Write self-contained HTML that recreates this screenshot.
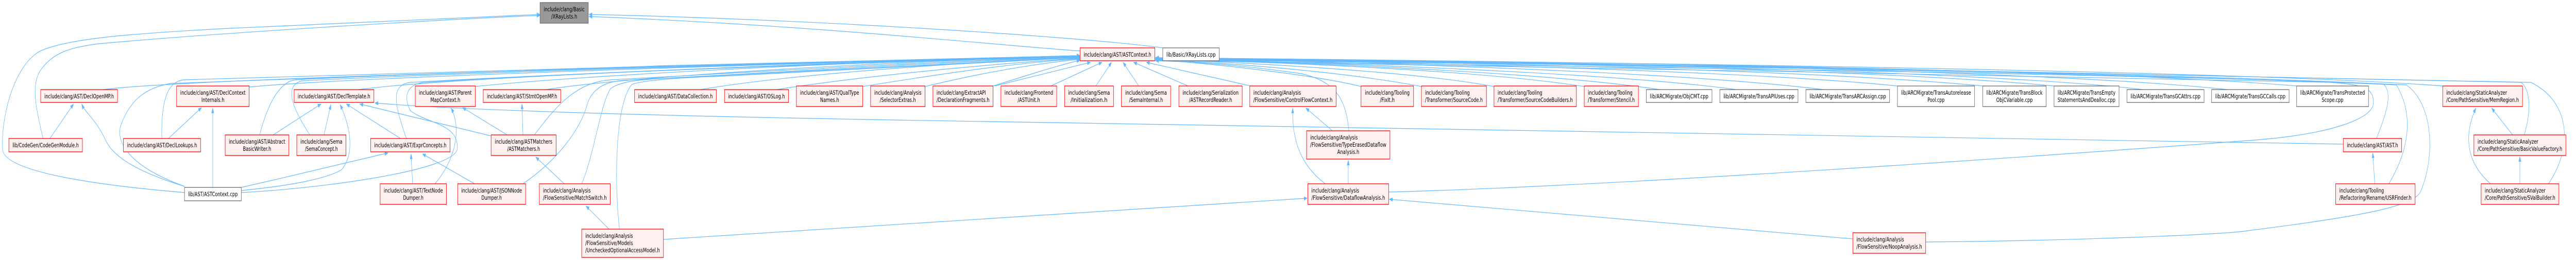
<!DOCTYPE html>
<html><head><meta charset="utf-8"><style>
html,body{margin:0;padding:0;background:#fff;width:100%;height:100%;overflow:hidden;}
svg{display:block;width:100vw;height:100vh;}
text{font-family:"DejaVu Sans","Liberation Sans",sans-serif;font-size:11.5px;fill:#000;}
.r{fill:#fff0f0;stroke:#ff0000;stroke-width:1.3;}
.g{fill:#fff;stroke:#666;stroke-width:1.3;}
.root{fill:#999;stroke:#666;stroke-width:1.3;}
.e{fill:none;stroke:#63b8ff;stroke-width:1.2;}
</style></head><body>
<svg viewBox="0 0 7847 505" preserveAspectRatio="none" xmlns="http://www.w3.org/2000/svg" overflow="hidden">
<defs><marker id="a" markerWidth="11" markerHeight="8" refX="10" refY="4" orient="auto" markerUnits="userSpaceOnUse"><path d="M0,0 L11,4 L0,8 z" fill="#63b8ff"/></marker></defs>
<g marker-end="url(#a)">
<path class="e" d="M562,374 C300,360 20,335 8,292 C2,230 40,130 120,100 C200,75 400,65 700,55 C1100,42 1450,32 1645,28"/>
<path class="e" d="M131,269 C110,210 95,170 120,140 C160,100 220,92 300,85 C700,62 1400,36 1645,30"/>
<path class="e" d="M3543,93 C3300,72 2500,38 1794,28"/>
<path class="e" d="M3290,99 C3000,86 2500,50 1794,32"/>
<path class="e" d="M152,269 L224,202"/>
<path class="e" d="M562,362 C400,330 340,300 320,270 C290,230 260,220 249,202"/>
<path class="e" d="M648,364 L648,210"/>
<path class="e" d="M513,269 L614,209"/>
<path class="e" d="M832,262 L978,202"/>
<path class="e" d="M987,262 L1008,203"/>
<path class="e" d="M1220,269 L1055,202"/>
<path class="e" d="M1496,264 L1096,202"/>
<path class="e" d="M735,370 C900,360 1000,345 1040,330 C1080,300 1070,250 1036,203"/>
<path class="e" d="M735,364 C900,340 1100,310 1182,297"/>
<path class="e" d="M1325,357 C1400,300 1400,240 1374,210"/>
<path class="e" d="M1545,262 L1409,209"/>
<path class="e" d="M1593,262 L1590,202"/>
<path class="e" d="M1257,357 L1252,299"/>
<path class="e" d="M1446,357 L1287,299"/>
<path class="e" d="M1719,357 L1632,305"/>
<path class="e" d="M1855,445 L1785,400"/>
<path class="e" d="M7138,280 C6000,275 4500,252 3000,236 C2000,226 1400,214 1142,200"/>
<path class="e" d="M314,174 C600,150 2500,122 3290,108"/>
<path class="e" d="M759,169 C1100,148 2500,122 3290,108"/>
<path class="e" d="M493,269 C490,180 520,158 560,155 C1200,140 2500,120 3290,109"/>
<path class="e" d="M791,262 C820,190 860,158 900,155 C1500,135 2600,120 3290,110"/>
<path class="e" d="M944,262 C880,200 870,165 920,157 C1500,138 2600,120 3290,110"/>
<path class="e" d="M562,362 C380,320 350,270 370,240 C400,190 450,170 520,162 C1200,140 2500,118 3290,108"/>
<path class="e" d="M735,374 C1000,365 1380,330 1393,290 C1400,240 1300,240 1250,215 C1230,190 1235,165 1290,160 C1800,140 2700,118 3290,108"/>
<path class="e" d="M1092,174 C1400,148 2500,124 3290,108"/>
<path class="e" d="M1448,168 C1800,145 2600,120 3290,108"/>
<path class="e" d="M1663,174 C1900,150 2600,122 3290,109"/>
<path class="e" d="M1238,269 C1200,200 1190,165 1250,160 C1800,140 2700,120 3290,110"/>
<path class="e" d="M1628,262 C1700,200 1760,160 1860,155 C2300,140 2800,120 3290,110"/>
<path class="e" d="M1593,357 C1700,310 1770,250 1790,200 C1810,165 1860,158 1900,156 C2400,140 2800,122 3290,111"/>
<path class="e" d="M1772,357 C1810,300 1830,200 1860,172 C1890,158 1950,155 2000,153 C2500,138 2900,120 3290,111"/>
<path class="e" d="M1887,445 C1870,350 1875,200 1925,164 C1960,155 2100,150 2200,148 C2700,134 3000,120 3290,112"/>
<path class="e" d="M2133,174 C2400,145 2900,122 3290,112"/>
<path class="e" d="M2366,174 C2600,150 3000,125 3290,113"/>
<path class="e" d="M2628,168 C2900,140 3100,122 3290,114"/>
<path class="e" d="M2818,168 C3000,140 3150,124 3290,115"/>
<path class="e" d="M3025,167 C3150,142 3230,126 3290,117"/>
<path class="e" d="M3201,167 L3357,121"/>
<path class="e" d="M3338,167 L3386,121"/>
<path class="e" d="M3469,167 L3421,121"/>
<path class="e" d="M3619,167 L3453,121"/>
<path class="e" d="M3810,167 L3492,121"/>
<path class="e" d="M3030,167 L3322,121"/>
<path class="e" d="M4146,168 C4000,145 3700,124 3520,116"/>
<path class="e" d="M4330,168 C4100,140 3750,122 3520,116"/>
<path class="e" d="M4551,168 C4300,138 3800,122 3520,115"/>
<path class="e" d="M4826,168 C4500,136 3900,121 3520,115"/>
<path class="e" d="M5056,174 C4700,140 4000,122 3520,114"/>
<path class="e" d="M5289,174 C4900,140 4000,121 3520,114"/>
<path class="e" d="M5554,174 C5100,138 4100,120 3520,113"/>
<path class="e" d="M5780,167 C5300,136 4200,120 3520,113"/>
<path class="e" d="M6040,167 C5500,134 4300,119 3520,113"/>
<path class="e" d="M6257,167 C5700,133 4400,119 3520,112"/>
<path class="e" d="M6528,174 C6000,134 4500,119 3520,112"/>
<path class="e" d="M6786,174 C6200,134 4600,119 3520,112"/>
<path class="e" d="M6996,167 C6400,134 4700,119 3520,112"/>
<path class="e" d="M7441,167 C6800,136 4800,120 3520,113"/>
<path class="e" d="M7239,269 C7270,220 7290,180 7260,163 C6500,140 4800,122 3520,114"/>
<path class="e" d="M7277,357 C7330,300 7360,230 7300,165 C6500,142 4800,123 3520,115"/>
<path class="e" d="M7689,262 C7710,220 7710,175 7680,160 C6800,140 4800,122 3520,115"/>
<path class="e" d="M7763,357 C7835,290 7835,200 7710,160 C6800,140 4800,123 3520,116"/>
<path class="e" d="M4230,373 C5000,360 6500,290 6847,273 C7100,262 7230,230 7230,200 C7230,170 7200,165 7100,160 C6000,145 4500,128 3520,117"/>
<path class="e" d="M5866,470 C6300,468 6800,455 6847,448 C7200,420 7360,400 7375,370 C7420,300 7410,200 7330,165 C6500,142 4500,126 3520,117"/>
<path class="e" d="M4109,254 C4100,200 4080,160 3964,143 C3800,128 3650,120 3520,118"/>
<path class="e" d="M4059,254 L3978,210"/>
<path class="e" d="M4037,357 C3960,320 3935,270 3938,210"/>
<path class="e" d="M4107,357 L4107,311"/>
<path class="e" d="M2021,465 L3982,385"/>
<path class="e" d="M5644,464 L4232,387"/>
<path class="e" d="M7234,357 L7228,297"/>
<path class="e" d="M7654,262 L7590,210"/>
<path class="e" d="M7587,357 C7520,320 7500,270 7542,210"/>
<path class="e" d="M7676,357 L7676,304"/>
</g>
<rect class="root" x="1645" y="5" width="147" height="40"/>
<text x="1718.5" y="22" text-anchor="middle" textLength="125" lengthAdjust="spacingAndGlyphs">include/clang/Basic</text>
<text x="1718.5" y="36" text-anchor="middle" textLength="79" lengthAdjust="spacingAndGlyphs">/XRayLists.h</text>
<rect class="r" x="124" y="174" width="234" height="25"/><text x="241" y="191" text-anchor="middle" textLength="212" lengthAdjust="spacingAndGlyphs">include/clang/AST/DeclOpenMP.h</text>
<rect class="r" x="27" y="269" width="224" height="26"/><text x="139" y="286" text-anchor="middle" textLength="202" lengthAdjust="spacingAndGlyphs">lib/CodeGen/CodeGenModule.h</text>
<rect class="r" x="538" y="167" width="221" height="40"/><text x="648.5" y="184" text-anchor="middle" textLength="199" lengthAdjust="spacingAndGlyphs">include/clang/AST/DeclContext</text><text x="648.5" y="198" text-anchor="middle" textLength="70" lengthAdjust="spacingAndGlyphs">Internals.h</text>
<rect class="r" x="376" y="269" width="235" height="26"/><text x="493.5" y="286" text-anchor="middle" textLength="213" lengthAdjust="spacingAndGlyphs">include/clang/AST/DeclLookups.h</text>
<rect class="r" x="686" y="262" width="194" height="40"/><text x="783" y="279" text-anchor="middle" textLength="172" lengthAdjust="spacingAndGlyphs">include/clang/AST/Abstract</text><text x="783" y="293" text-anchor="middle" textLength="86" lengthAdjust="spacingAndGlyphs">BasicWriter.h</text>
<rect class="r" x="904" y="262" width="150" height="40"/><text x="979" y="279" text-anchor="middle" textLength="128" lengthAdjust="spacingAndGlyphs">include/clang/Sema</text><text x="979" y="293" text-anchor="middle" textLength="100" lengthAdjust="spacingAndGlyphs">/SemaConcept.h</text>
<rect class="g" x="562" y="364" width="173" height="26"/><text x="648.5" y="381" text-anchor="middle" textLength="151" lengthAdjust="spacingAndGlyphs">lib/AST/ASTContext.cpp</text>
<rect class="r" x="896" y="174" width="243" height="25"/><text x="1017.5" y="191" text-anchor="middle" textLength="221" lengthAdjust="spacingAndGlyphs">include/clang/AST/DeclTemplate.h</text>
<rect class="r" x="1265" y="167" width="183" height="40"/><text x="1356.5" y="184" text-anchor="middle" textLength="161" lengthAdjust="spacingAndGlyphs">include/clang/AST/Parent</text><text x="1356.5" y="198" text-anchor="middle" textLength="91" lengthAdjust="spacingAndGlyphs">MapContext.h</text>
<rect class="r" x="1472" y="174" width="236" height="25"/><text x="1590" y="191" text-anchor="middle" textLength="214" lengthAdjust="spacingAndGlyphs">include/clang/AST/StmtOpenMP.h</text>
<rect class="r" x="1933" y="174" width="249" height="25"/><text x="2057.5" y="191" text-anchor="middle" textLength="227" lengthAdjust="spacingAndGlyphs">include/clang/AST/DataCollection.h</text>
<rect class="r" x="1129" y="269" width="242" height="26"/><text x="1250" y="286" text-anchor="middle" textLength="220" lengthAdjust="spacingAndGlyphs">include/clang/AST/ExprConcepts.h</text>
<rect class="r" x="1496" y="262" width="198" height="40"/><text x="1595" y="279" text-anchor="middle" textLength="175" lengthAdjust="spacingAndGlyphs">include/clang/ASTMatchers</text><text x="1595" y="293" text-anchor="middle" textLength="100" lengthAdjust="spacingAndGlyphs">/ASTMatchers.h</text>
<rect class="r" x="1158" y="357" width="202" height="40"/><text x="1259" y="374" text-anchor="middle" textLength="180" lengthAdjust="spacingAndGlyphs">include/clang/AST/TextNode</text><text x="1259" y="388" text-anchor="middle" textLength="62" lengthAdjust="spacingAndGlyphs">Dumper.h</text>
<rect class="r" x="1394" y="357" width="207" height="40"/><text x="1497.5" y="374" text-anchor="middle" textLength="185" lengthAdjust="spacingAndGlyphs">include/clang/AST/JSONNode</text><text x="1497.5" y="388" text-anchor="middle" textLength="62" lengthAdjust="spacingAndGlyphs">Dumper.h</text>
<rect class="r" x="1643" y="357" width="216" height="40"/><text x="1654" y="374" textLength="145" lengthAdjust="spacingAndGlyphs">include/clang/Analysis</text><text x="1654" y="388" textLength="194" lengthAdjust="spacingAndGlyphs">/FlowSensitive/MatchSwitch.h</text>
<rect class="r" x="1772" y="445" width="249" height="55"/><text x="1783" y="462" textLength="145" lengthAdjust="spacingAndGlyphs">include/clang/Analysis</text><text x="1783" y="476" textLength="145" lengthAdjust="spacingAndGlyphs">/FlowSensitive/Models</text><text x="1783" y="490" textLength="227" lengthAdjust="spacingAndGlyphs">/UncheckedOptionalAccessModel.h</text>
<rect class="r" x="2207" y="174" width="195" height="25"/><text x="2304.5" y="191" text-anchor="middle" textLength="173" lengthAdjust="spacingAndGlyphs">include/clang/AST/OSLog.h</text>
<rect class="r" x="2426" y="167" width="202" height="40"/><text x="2527" y="184" text-anchor="middle" textLength="180" lengthAdjust="spacingAndGlyphs">include/clang/AST/QualType</text><text x="2527" y="198" text-anchor="middle" textLength="58" lengthAdjust="spacingAndGlyphs">Names.h</text>
<rect class="r" x="2652" y="167" width="166" height="40"/><text x="2735" y="184" text-anchor="middle" textLength="144" lengthAdjust="spacingAndGlyphs">include/clang/Analysis</text><text x="2735" y="198" text-anchor="middle" textLength="110" lengthAdjust="spacingAndGlyphs">/SelectorExtras.h</text>
<rect class="r" x="2842" y="167" width="183" height="40"/><text x="2853" y="184" textLength="150" lengthAdjust="spacingAndGlyphs">include/clang/ExtractAPI</text><text x="2853" y="198" textLength="161" lengthAdjust="spacingAndGlyphs">/DeclarationFragments.h</text>
<rect class="r" x="3049" y="167" width="170" height="40"/><text x="3134" y="184" text-anchor="middle" textLength="148" lengthAdjust="spacingAndGlyphs">include/clang/Frontend</text><text x="3134" y="198" text-anchor="middle" textLength="68" lengthAdjust="spacingAndGlyphs">/ASTUnit.h</text>
<rect class="r" x="3243" y="167" width="149" height="40"/><text x="3317.5" y="184" text-anchor="middle" textLength="127" lengthAdjust="spacingAndGlyphs">include/clang/Sema</text><text x="3317.5" y="198" text-anchor="middle" textLength="112" lengthAdjust="spacingAndGlyphs">/Initialization.h</text>
<rect class="r" x="3416" y="167" width="150" height="40"/><text x="3491" y="184" text-anchor="middle" textLength="127" lengthAdjust="spacingAndGlyphs">include/clang/Sema</text><text x="3491" y="198" text-anchor="middle" textLength="103" lengthAdjust="spacingAndGlyphs">/SemaInternal.h</text>
<rect class="r" x="3591" y="167" width="193" height="40"/><text x="3687.5" y="184" text-anchor="middle" textLength="171" lengthAdjust="spacingAndGlyphs">include/clang/Serialization</text><text x="3687.5" y="198" text-anchor="middle" textLength="131" lengthAdjust="spacingAndGlyphs">/ASTRecordReader.h</text>
<rect class="r" x="3290" y="93" width="228" height="25"/><text x="3404" y="110" text-anchor="middle" textLength="206" lengthAdjust="spacingAndGlyphs">include/clang/AST/ASTContext.h</text>
<rect class="g" x="3542" y="93" width="172" height="25"/><text x="3628" y="110" text-anchor="middle" textLength="150" lengthAdjust="spacingAndGlyphs">lib/Basic/XRayLists.cpp</text>
<rect class="r" x="3807" y="167" width="263" height="40"/><text x="3818" y="184" textLength="145" lengthAdjust="spacingAndGlyphs">include/clang/Analysis</text><text x="3818" y="198" textLength="241" lengthAdjust="spacingAndGlyphs">/FlowSensitive/ControlFlowContext.h</text>
<rect class="r" x="4146" y="167" width="160" height="40"/><text x="4226" y="184" text-anchor="middle" textLength="136" lengthAdjust="spacingAndGlyphs">include/clang/Tooling</text><text x="4226" y="198" text-anchor="middle" textLength="45" lengthAdjust="spacingAndGlyphs">/FixIt.h</text>
<rect class="r" x="4330" y="167" width="198" height="40"/><text x="4341" y="184" textLength="136" lengthAdjust="spacingAndGlyphs">include/clang/Tooling</text><text x="4341" y="198" textLength="176" lengthAdjust="spacingAndGlyphs">/Transformer/SourceCode.h</text>
<rect class="r" x="4551" y="167" width="251" height="40"/><text x="4562" y="184" textLength="136" lengthAdjust="spacingAndGlyphs">include/clang/Tooling</text><text x="4562" y="198" textLength="229" lengthAdjust="spacingAndGlyphs">/Transformer/SourceCodeBuilders.h</text>
<rect class="r" x="4826" y="167" width="165" height="40"/><text x="4837" y="184" textLength="136" lengthAdjust="spacingAndGlyphs">include/clang/Tooling</text><text x="4837" y="198" textLength="143" lengthAdjust="spacingAndGlyphs">/Transformer/Stencil.h</text>
<rect class="r" x="3980" y="254" width="254" height="55"/><text x="3991" y="271" textLength="145" lengthAdjust="spacingAndGlyphs">include/clang/Analysis</text><text x="3991" y="285" textLength="232" lengthAdjust="spacingAndGlyphs">/FlowSensitive/TypeErasedDataflow</text><text x="4107" y="299" text-anchor="middle" textLength="67" lengthAdjust="spacingAndGlyphs">Analysis.h</text>
<rect class="r" x="3984" y="357" width="246" height="40"/><text x="3995" y="374" textLength="145" lengthAdjust="spacingAndGlyphs">include/clang/Analysis</text><text x="3995" y="388" textLength="224" lengthAdjust="spacingAndGlyphs">/FlowSensitive/DataflowAnalysis.h</text>
<rect class="g" x="5015" y="174" width="200" height="25"/><text x="5115" y="191" text-anchor="middle" textLength="178" lengthAdjust="spacingAndGlyphs">lib/ARCMigrate/ObjCMT.cpp</text>
<rect class="g" x="5239" y="174" width="238" height="25"/><text x="5358" y="191" text-anchor="middle" textLength="216" lengthAdjust="spacingAndGlyphs">lib/ARCMigrate/TransAPIUses.cpp</text>
<rect class="g" x="5501" y="174" width="255" height="25"/><text x="5628.5" y="191" text-anchor="middle" textLength="233" lengthAdjust="spacingAndGlyphs">lib/ARCMigrate/TransARCAssign.cpp</text>
<rect class="g" x="5780" y="167" width="235" height="40"/><text x="5897.5" y="184" text-anchor="middle" textLength="213" lengthAdjust="spacingAndGlyphs">lib/ARCMigrate/TransAutorelease</text><text x="5897.5" y="198" text-anchor="middle" textLength="52" lengthAdjust="spacingAndGlyphs">Pool.cpp</text>
<rect class="r" x="5644" y="452" width="222" height="40"/><text x="5655" y="469" textLength="145" lengthAdjust="spacingAndGlyphs">include/clang/Analysis</text><text x="5655" y="483" textLength="200" lengthAdjust="spacingAndGlyphs">/FlowSensitive/NoopAnalysis.h</text>
<rect class="g" x="6040" y="167" width="193" height="40"/><text x="6136.5" y="184" text-anchor="middle" textLength="171" lengthAdjust="spacingAndGlyphs">lib/ARCMigrate/TransBlock</text><text x="6136.5" y="198" text-anchor="middle" textLength="111" lengthAdjust="spacingAndGlyphs">ObjCVariable.cpp</text>
<rect class="g" x="6257" y="167" width="198" height="40"/><text x="6356" y="184" text-anchor="middle" textLength="176" lengthAdjust="spacingAndGlyphs">lib/ARCMigrate/TransEmpty</text><text x="6356" y="198" text-anchor="middle" textLength="176" lengthAdjust="spacingAndGlyphs">StatementsAndDealloc.cpp</text>
<rect class="g" x="6479" y="174" width="235" height="25"/><text x="6596.5" y="191" text-anchor="middle" textLength="213" lengthAdjust="spacingAndGlyphs">lib/ARCMigrate/TransGCAttrs.cpp</text>
<rect class="g" x="6737" y="174" width="236" height="25"/><text x="6855" y="191" text-anchor="middle" textLength="214" lengthAdjust="spacingAndGlyphs">lib/ARCMigrate/TransGCCalls.cpp</text>
<rect class="g" x="6996" y="167" width="219" height="40"/><text x="7105.5" y="184" text-anchor="middle" textLength="197" lengthAdjust="spacingAndGlyphs">lib/ARCMigrate/TransProtected</text><text x="7105.5" y="198" text-anchor="middle" textLength="66" lengthAdjust="spacingAndGlyphs">Scope.cpp</text>
<rect class="r" x="7441" y="167" width="243" height="40"/><text x="7452" y="184" textLength="185" lengthAdjust="spacingAndGlyphs">include/clang/StaticAnalyzer</text><text x="7452" y="198" textLength="221" lengthAdjust="spacingAndGlyphs">/Core/PathSensitive/MemRegion.h</text>
<rect class="r" x="7138" y="269" width="178" height="26"/><text x="7227" y="286" text-anchor="middle" textLength="156" lengthAdjust="spacingAndGlyphs">include/clang/AST/AST.h</text>
<rect class="r" x="7115" y="357" width="242" height="40"/><text x="7126" y="374" textLength="136" lengthAdjust="spacingAndGlyphs">include/clang/Tooling</text><text x="7126" y="388" textLength="220" lengthAdjust="spacingAndGlyphs">/Refactoring/Rename/USRFinder.h</text>
<rect class="r" x="7536" y="262" width="280" height="40"/><text x="7547" y="279" textLength="185" lengthAdjust="spacingAndGlyphs">include/clang/StaticAnalyzer</text><text x="7547" y="293" textLength="258" lengthAdjust="spacingAndGlyphs">/Core/PathSensitive/BasicValueFactory.h</text>
<rect class="r" x="7558" y="357" width="237" height="40"/><text x="7569" y="374" textLength="185" lengthAdjust="spacingAndGlyphs">include/clang/StaticAnalyzer</text><text x="7569" y="388" textLength="215" lengthAdjust="spacingAndGlyphs">/Core/PathSensitive/SValBuilder.h</text>
</svg>
</body></html>
